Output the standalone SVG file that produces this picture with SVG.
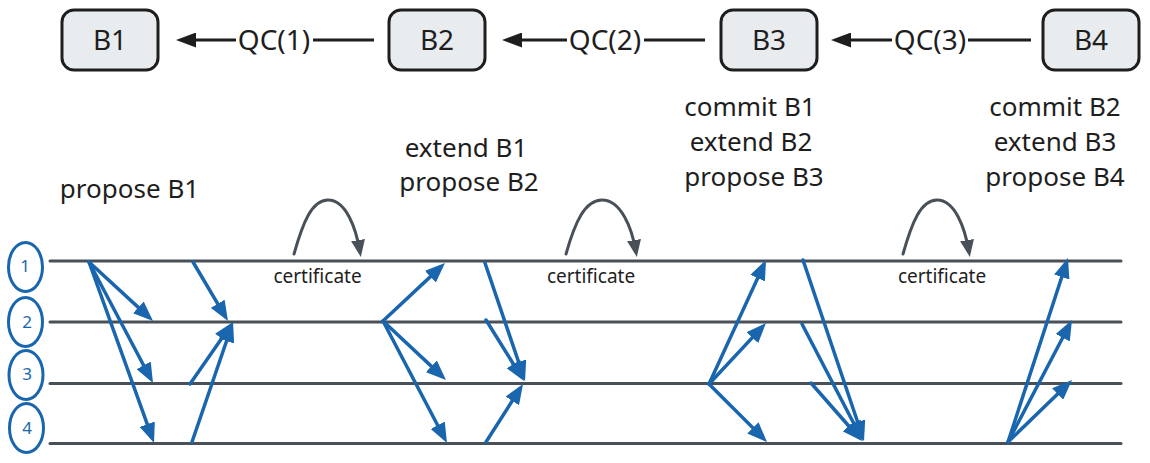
<svg xmlns="http://www.w3.org/2000/svg" width="1150" height="463" viewBox="0 0 1150 463">
<style>
  .box { fill: #e9ecef; stroke: #1e1e1e; stroke-width: 3; }
  .nlabel { font-family: "Noto Sans", "Open Sans", sans-serif; font-size: 28px; fill: #1e1e1e; text-anchor: middle; }
  .lbl { font-family: "Noto Sans", "Open Sans", sans-serif; font-size: 26px; fill: #1e1e1e; text-anchor: middle; }
  .cert { font-family: "Noto Sans", "Open Sans", sans-serif; font-size: 19px; fill: #1e1e1e; text-anchor: middle; }
  .digit { font-family: "Noto Sans", "DejaVu Sans", sans-serif; font-size: 17px; fill: #1a66ae; text-anchor: middle; }
  .topline { stroke: #1e1e1e; stroke-width: 3; fill: none; }
  .proc { stroke: #495057; stroke-width: 3; stroke-linecap: round; }
  .msg { stroke: #1a66ae; stroke-width: 3.5; fill: none; stroke-linecap: round; marker-end: url(#blueHead); }
  .loop { stroke: #495057; stroke-width: 3; fill: none; stroke-linecap: round; marker-end: url(#grayHead); }
  .circ { fill: none; stroke: #1a66ae; stroke-width: 3; }
</style>
<defs>
  <marker id="blackHead" markerUnits="userSpaceOnUse" markerWidth="20" markerHeight="15" refX="14" refY="7.5" orient="auto">
    <path d="M0,0 L20,7.5 L0,15 z" fill="#1e1e1e"/>
  </marker>
  <marker id="blueHead" markerUnits="userSpaceOnUse" markerWidth="20" markerHeight="16" refX="14" refY="8" orient="auto">
    <path d="M0,0 L20,8 L0,16 z" fill="#1a66ae"/>
  </marker>
  <marker id="grayHead" markerUnits="userSpaceOnUse" markerWidth="17" markerHeight="14" refX="12" refY="7" orient="auto">
    <path d="M0,0 L17,7 L0,14 z" fill="#495057"/>
  </marker>
</defs>
<rect width="1150" height="463" fill="#ffffff"/>

<g id="B1"><rect class="box" x="62" y="10" width="96" height="60" rx="12"/><text class="nlabel" x="110" y="50">B1</text></g>
<g id="B2"><rect class="box" x="389" y="10" width="96" height="60" rx="12"/><text class="nlabel" x="437" y="50">B2</text></g>
<g id="B3"><rect class="box" x="721" y="10" width="96" height="60" rx="12"/><text class="nlabel" x="769" y="50">B3</text></g>
<g id="B4"><rect class="box" x="1043" y="10" width="96" height="60" rx="12"/><text class="nlabel" x="1091" y="50">B4</text></g>

<g id="processes">
  <line class="proc" x1="50" y1="261" x2="1121" y2="261"/>
  <line class="proc" x1="50" y1="322" x2="1121" y2="322"/>
  <line class="proc" x1="50" y1="383.5" x2="1121" y2="383.5"/>
  <line class="proc" x1="50" y1="443.5" x2="1121" y2="443.5"/>
  <ellipse class="circ" cx="25.5" cy="267" rx="17" ry="24.5"/>
  <ellipse class="circ" cx="25.5" cy="322" rx="17" ry="24.5"/>
  <ellipse class="circ" cx="26" cy="375" rx="17" ry="24.5"/>
  <ellipse class="circ" cx="26.5" cy="428" rx="17" ry="24.5"/>
  <text class="digit" x="25" y="272">1</text>
  <text class="digit" x="27" y="328">2</text>
  <text class="digit" x="27" y="380">3</text>
  <text class="digit" x="27" y="434">4</text>
</g>

<g id="connectors">
  <path class="topline" d="M374,40 H313"/>
  <path class="topline" d="M236,40 H182" marker-end="url(#blackHead)"/>
  <path class="topline" d="M705,40 H644"/>
  <path class="topline" d="M567,40 H508" marker-end="url(#blackHead)"/>
  <path class="topline" d="M1031,40 H968"/>
  <path class="topline" d="M892,40 H837" marker-end="url(#blackHead)"/>

  <line class="msg" x1="89" y1="262" x2="148.6" y2="316.9"/>
  <line class="msg" x1="89" y1="262" x2="150.2" y2="377.7"/>
  <line class="msg" x1="89" y1="262" x2="152" y2="437.4"/>
  <line class="msg" x1="193" y1="262" x2="224.9" y2="315.8"/>
  <line class="msg" x1="190" y1="384" x2="229.6" y2="326.9"/>
  <line class="msg" x1="192" y1="442" x2="231.1" y2="327.7"/>

  <line class="msg" x1="383" y1="321" x2="440.6" y2="267.1"/>
  <line class="msg" x1="383" y1="321" x2="441.6" y2="375.9"/>
  <line class="msg" x1="383" y1="321" x2="444.2" y2="437.7"/>
  <line class="msg" x1="485" y1="263" x2="523.1" y2="375.3"/>
  <line class="msg" x1="486" y1="320" x2="520.8" y2="375.9"/>
  <line class="msg" x1="486" y1="442" x2="519.8" y2="389.1"/>

  <line class="msg" x1="709" y1="384" x2="763.5" y2="265.4"/>
  <line class="msg" x1="709" y1="384" x2="761.9" y2="327.4"/>
  <line class="msg" x1="709" y1="384" x2="762.8" y2="437.8"/>
  <line class="msg" x1="803" y1="260" x2="862.1" y2="435.3"/>
  <line class="msg" x1="802" y1="324" x2="860.2" y2="435.7"/>
  <line class="msg" x1="811" y1="383" x2="858" y2="436.5"/>

  <line class="msg" x1="1008" y1="442" x2="1066.1" y2="263.7"/>
  <line class="msg" x1="1008" y1="442" x2="1069.2" y2="325.3"/>
  <line class="msg" x1="1008" y1="442" x2="1067.7" y2="384.2"/>

  <path class="loop" d="M294,254 C303,222 312,200 328,200 C346,200 356,228 360,252"/>
  <path class="loop" d="M566,254 C575,222 585,200 602,200 C621,200 632,228 636,252"/>
  <path class="loop" d="M903,254 C912,222 921,200 937,200 C955,200 965,228 969,252"/>
</g>

<g id="labels">
  <text class="nlabel" x="274" y="50">QC(1)</text>
  <text class="nlabel" x="605" y="50">QC(2)</text>
  <text class="nlabel" x="930" y="50">QC(3)</text>

  <text class="lbl" x="129.5" y="198">propose B1</text>
  <text class="lbl" x="466" y="157">extend B1</text>
  <text class="lbl" x="469" y="191">propose B2</text>
  <text class="lbl" x="750" y="116">commit B1</text>
  <text class="lbl" x="751" y="151">extend B2</text>
  <text class="lbl" x="754" y="186">propose B3</text>
  <text class="lbl" x="1055" y="116">commit B2</text>
  <text class="lbl" x="1055" y="151">extend B3</text>
  <text class="lbl" x="1055" y="186">propose B4</text>

  <text class="cert" x="317.5" y="283">certificate</text>
  <text class="cert" x="591" y="283">certificate</text>
  <text class="cert" x="942" y="283">certificate</text>
</g>
</svg>
